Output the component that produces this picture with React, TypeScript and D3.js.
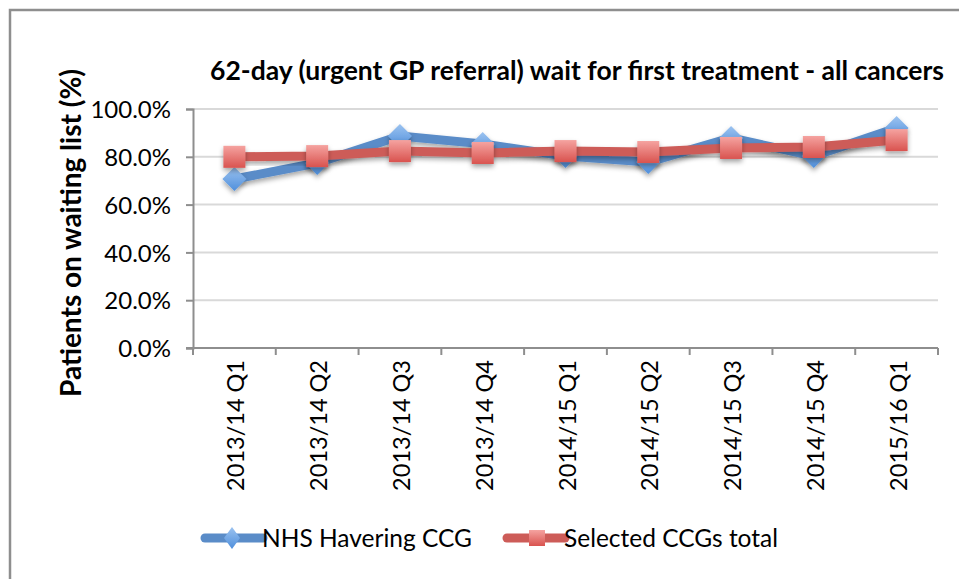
import React, { useEffect, useRef } from 'react'
import * as d3 from 'd3'

const quarters = ['2013/14 Q1', '2013/14 Q2', '2013/14 Q3', '2013/14 Q4', '2014/15 Q1', '2014/15 Q2', '2014/15 Q3', '2014/15 Q4', '2015/16 Q1']
const havering = [70.7, 77.4, 88.7, 85.4, 80.3, 77.8, 87.9, 80.3, 92.0]
const selectedTotal = [80.0, 80.3, 82.4, 81.6, 82.4, 82.0, 83.7, 84.1, 87.0]
const yTicks = [0, 20, 40, 60, 80, 100]

const FONT = 'Lato, "Open Sans", sans-serif'

export default function App() {
  const ref = useRef<SVGSVGElement | null>(null)

  useEffect(() => {
    const svg = d3.select(ref.current!)
    svg.selectAll('*').remove()
    const width = 959
    const height = 579
    const margin = { top: 109, right: 21, bottom: 231, left: 193 }

    const defs = svg.append('defs')
    const shadow = defs.append('filter').attr('id', 'shadow').attr('x', '-50%').attr('y', '-50%').attr('width', '200%').attr('height', '200%')
    shadow.append('feDropShadow').attr('dx', 0).attr('dy', 3).attr('stdDeviation', 2.5).attr('flood-color', '#000').attr('flood-opacity', 0.35)
    const gradBlue = defs.append('linearGradient').attr('id', 'gBlue').attr('x1', 0).attr('y1', 0).attr('x2', 0).attr('y2', 1)
    gradBlue.append('stop').attr('offset', '0%').attr('stop-color', '#9cc3f0')
    gradBlue.append('stop').attr('offset', '100%').attr('stop-color', '#4f8fdc')
    const gradRed = defs.append('linearGradient').attr('id', 'gRed').attr('x1', 0).attr('y1', 0).attr('x2', 0).attr('y2', 1)
    gradRed.append('stop').attr('offset', '0%').attr('stop-color', '#f5a3a0')
    gradRed.append('stop').attr('offset', '100%').attr('stop-color', '#d9534f')

    svg.append('rect').attr('width', width).attr('height', height).attr('fill', '#fff')
    svg.append('rect').attr('x', 10).attr('y', 10).attr('width', width + 20).attr('height', height + 20)
      .attr('fill', 'none').attr('stroke', '#8e8e8e').attr('stroke-width', 2.5)

    const x = d3.scaleBand<string>().domain(quarters).range([margin.left, width - margin.right])
    const y = d3.scaleLinear().domain([0, 100]).range([height - margin.bottom, margin.top])
    const cx = (d: string) => (x(d) ?? 0) + x.bandwidth() / 2

    // gridlines
    svg.append('g').selectAll('line').data(yTicks.filter(t => t > 0)).enter().append('line')
      .attr('x1', margin.left).attr('x2', width - margin.right)
      .attr('y1', d => y(d)).attr('y2', d => y(d))
      .attr('stroke', '#d9d9d9').attr('stroke-width', 2)

    // axes
    const yAxis = svg.append('g').attr('transform', `translate(${margin.left},0)`)
      .call(d3.axisLeft(y).tickValues(yTicks).tickSize(7).tickFormat(d => `${(+d).toFixed(1)}%`))
    yAxis.select('.domain').attr('stroke', '#8e8e8e').attr('stroke-width', 2)
    yAxis.selectAll('.tick line').attr('stroke', '#8e8e8e').attr('stroke-width', 2)
    yAxis.selectAll('.tick text').attr('font-family', FONT).attr('font-size', 24).attr('fill', '#000').attr('x', -22).attr('dy', '0.36em')

    const xAxisG = svg.append('g').attr('transform', `translate(0,${y(0)})`)
    xAxisG.append('line').attr('x1', margin.left - 7).attr('x2', width - margin.right)
      .attr('stroke', '#8e8e8e').attr('stroke-width', 2)
    const bounds = quarters.map(q => x(q) ?? 0).concat([width - margin.right])
    xAxisG.selectAll('line.tk').data(bounds).enter().append('line').attr('class', 'tk')
      .attr('x1', d => d).attr('x2', d => d).attr('y1', 0).attr('y2', 7)
      .attr('stroke', '#8e8e8e').attr('stroke-width', 2)
    xAxisG.selectAll('text').data(quarters).enter().append('text')
      .attr('transform', d => `translate(${cx(d) + 10},12) rotate(-90)`)
      .attr('text-anchor', 'end').attr('font-family', FONT).attr('font-size', 23.5).attr('fill', '#000')
      .text(d => d)

    // series
    const line = d3.line<number>().x((_, i) => cx(quarters[i])).y(d => y(d))
    const series = [
      { name: 'NHS Havering CCG', values: havering, color: '#5a8cc8', fill: 'url(#gBlue)', marker: 'diamond' },
      { name: 'Selected CCGs total', values: selectedTotal, color: '#cd5c58', fill: 'url(#gRed)', marker: 'square' },
    ]

    const drawMarker = (g: d3.Selection<any, any, any, any>, m: string, fill: string, px: number, py: number) => {
      if (m === 'diamond') {
        g.append('path').attr('d', `M${px},${py - 12} L${px + 12},${py} L${px},${py + 12} L${px - 12},${py} Z`)
          .attr('fill', fill).attr('filter', 'url(#shadow)')
      } else {
        g.append('rect').attr('x', px - 11).attr('y', py - 11).attr('width', 22).attr('height', 22)
          .attr('fill', fill).attr('filter', 'url(#shadow)')
      }
    }

    series.forEach(s => {
      const g = svg.append('g')
      g.append('path').datum(s.values).attr('d', line).attr('fill', 'none')
        .attr('stroke', s.color).attr('stroke-width', 9).attr('stroke-linejoin', 'round').attr('filter', 'url(#shadow)')
      s.values.forEach((v, i) => drawMarker(g, s.marker, s.fill, cx(quarters[i]), y(v)))
    })

    // title
    svg.append('text').attr('x', 577).attr('y', 80).attr('text-anchor', 'middle')
      .attr('font-family', FONT).attr('font-weight', 700).attr('font-size', 26.5).attr('fill', '#000')
      .text('62-day (urgent GP referral) wait for first treatment - all cancers')

    svg.append('text').attr('transform', `translate(81,233) rotate(-90)`).attr('text-anchor', 'middle')
      .attr('font-family', FONT).attr('font-weight', 700).attr('font-size', 28).attr('fill', '#000')
      .text('Patients on waiting list (%)')

    // legend
    const legendX = [205, 507]
    series.forEach((s, i) => {
      const g = svg.append('g')
      const lx = legendX[i]
      g.append('line').attr('x1', lx).attr('x2', lx + 58).attr('y1', 538).attr('y2', 538)
        .attr('stroke', s.color).attr('stroke-width', 9).attr('stroke-linecap', 'round')
      if (s.marker === 'diamond') {
        g.append('path').attr('d', `M${lx + 27},${538 - 11} L${lx + 35},538 L${lx + 27},${538 + 11} L${lx + 19},538 Z`).attr('fill', s.fill)
      } else {
        g.append('rect').attr('x', lx + 22).attr('y', 530).attr('width', 16).attr('height', 16).attr('fill', s.fill)
      }
      g.append('text').attr('x', lx + 57).attr('y', 547).attr('font-family', FONT).attr('font-size', 24.5).attr('fill', '#000').text(s.name)
    })
  }, [])

  return <svg ref={ref} width={959} height={579} style={{ position: 'absolute', left: 0, top: 0 }} />
}
